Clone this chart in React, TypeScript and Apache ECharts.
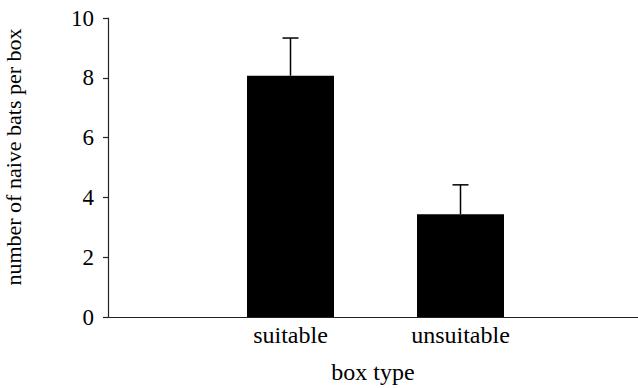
import React, { useEffect, useRef } from "react";
import * as echarts from "echarts";

const categories = ["suitable", "unsuitable"];
const means = [8.07, 3.44];
const errors = [1.26, 0.98];
const yTicks = { min: 0, max: 10, interval: 2 };

const FONT = "'Liberation Serif', 'Times New Roman', serif";

export default function App() {
  const ref = useRef<HTMLDivElement>(null);
  useEffect(() => {
    if (!ref.current) return;
    const chart = echarts.init(ref.current, null, { renderer: "svg" });
    const errData = categories.map((c, i) => [i, means[i], means[i] + errors[i]]);
    chart.setOption({
      animation: false,
      backgroundColor: "#fff",
      textStyle: { fontFamily: FONT, color: "#000" },
      grid: [
        { left: 205.5, right: 92.5, top: 18, bottom: 71, containLabel: false, outerBoundsMode: "none" },
        { left: 108, right: 0, top: 18, bottom: 71, containLabel: false, outerBoundsMode: "none" },
      ],
      xAxis: [
        {
          gridIndex: 0,
          type: "category",
          data: categories,
          axisLine: { show: false },
          axisTick: { show: false },
          axisLabel: { fontFamily: FONT, fontSize: 24, color: "#000", margin: 6 },
        },
        {
          gridIndex: 1,
          type: "value",
          min: 0,
          max: 1,
          axisLine: { show: true, lineStyle: { color: "#222", width: 1.2 } },
          axisTick: { show: false },
          axisLabel: { show: false },
          splitLine: { show: false },
          name: "box type",
          nameLocation: "middle",
          nameGap: 43,
          nameTextStyle: { fontFamily: FONT, fontSize: 24, color: "#000" },
        },
      ],
      yAxis: [
        {
          gridIndex: 0,
          type: "value",
          min: yTicks.min,
          max: yTicks.max,
          interval: yTicks.interval,
          show: false,
          splitLine: { show: false },
        },
        {
          gridIndex: 1,
          type: "value",
          min: yTicks.min,
          max: yTicks.max,
          interval: yTicks.interval,
          axisLine: { show: true, lineStyle: { color: "#222", width: 1.2 } },
          axisTick: { show: true, inside: false, length: 5, lineStyle: { color: "#222", width: 1.2 } },
          axisLabel: { fontFamily: FONT, fontSize: 23, color: "#000", margin: 14 },
          splitLine: { show: false },
        },
      ],
      graphic: [
        {
          type: "text",
          x: 13,
          y: 157,
          rotation: Math.PI / 2,
          style: {
            text: "number of naive bats per box",
            fontFamily: FONT,
            fontSize: 22,
            fill: "#000",
            align: "center",
            verticalAlign: "middle",
          },
        },
      ],
      series: [
        {
          type: "bar",
          xAxisIndex: 0,
          yAxisIndex: 0,
          data: means,
          barWidth: 87,
          itemStyle: { color: "#000" },
          z: 2,
        },
        {
          type: "custom",
          xAxisIndex: 0,
          yAxisIndex: 0,
          data: errData,
          z: 3,
          renderItem: (params: any, api: any) => {
            const x = api.value(0);
            const lo = api.coord([x, api.value(1)]);
            const hi = api.coord([x, api.value(2)]);
            const cap = 8;
            const style = { stroke: "#000", lineWidth: 1.5 };
            return {
              type: "group",
              children: [
                { type: "line", shape: { x1: lo[0], y1: lo[1], x2: hi[0], y2: hi[1] }, style },
                { type: "line", shape: { x1: hi[0] - cap, y1: hi[1], x2: hi[0] + cap, y2: hi[1] }, style },
              ],
            };
          },
        },
      ],
    });
    return () => chart.dispose();
  }, []);
  return (
    <div
      ref={ref}
      style={{ position: "fixed", left: 0, top: 0, width: 638, height: 388 }}
    />
  );
}
